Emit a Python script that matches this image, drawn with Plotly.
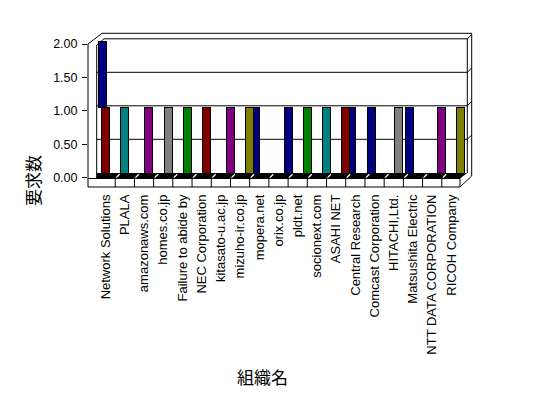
import plotly.graph_objects as go

# ---------------- data ----------------
categories = ["Network Solutions", "PLALA", "amazonaws.com", "homes.co.jp",
              "Failure to abide by", "NEC Corporation", "kitasato-u.ac.jp",
              "mizuho-ir.co.jp", "mopera.net", "orix.co.jp", "pldt.net",
              "socionext.com", "ASAHI NET", "Central Research",
              "Comcast Corporation", "HITACHI,Ltd.", "Matsushita Electric",
              "NTT DATA CORPORATION", "RICOH Company"]
N = None
# requests, split by the slot in which each bar is drawn
slot_front = [1, N, N, N, N, N, N, N, 1, N, N, N, N, 1, 1, N, 1, N, N]
slot_second = [1, 1, N, N, N, N, N, N, N, N, N, N, N, N, N, N, N, N, N]
slot_third = [N, N, 1, 1, 1, 1, N, N, N, N, N, N, N, N, N, 1, N, N, N]
slot_fourth = [N, N, N, N, N, N, 1, 1, N, 1, 1, 1, 1, N, N, N, N, 1, 1]
y_ticks = [0, 0.5, 1.0, 1.5, 2.0]
y_tick_text = ["0.00", "0.50", "1.00", "1.50", "2.00"]

# ---------------- style ----------------
NAVY, MAROON, TEAL, PURPLE = "#000080", "#800000", "#008080", "#800080"
GRAY, GREEN, OLIVE = "#808080", "#008000", "#808000"
bar_colors = [MAROON, TEAL, PURPLE, GRAY, GREEN, MAROON, PURPLE, OLIVE, NAVY,
              NAVY, GREEN, TEAL, MAROON, NAVY, NAVY, GRAY, NAVY, PURPLE, OLIVE]

PAGE_OFF = 8            # default body margin of the page
W, H = 548 - PAGE_OFF, 398 - PAGE_OFF
L, R = 88, 472          # plot area, window px
T, B = 41, 178
CELL0, CELL1 = 96, 461  # first / last category edge on the floor front
cellw = (CELL1 - CELL0) / len(categories)
unit = 67.0             # px per request
label_shift = 3 / unit  # front labels sit a little lower than the bars

def px(x):
    return (x - L) / (R - L)

def py(y):
    return (B - y) / (B - T)

bw = 8 / cellw
def off(left_px):
    return left_px / cellw - 0.5

fig = go.Figure()
for vals, cols, left in [(slot_second, bar_colors, 5.3),
                         (slot_front, NAVY, 2.2),
                         (slot_third, bar_colors, 10.5),
                         (slot_fourth, bar_colors, 15.2)]:
    fig.add_trace(go.Bar(x=categories, y=vals,
                         marker=dict(color=cols, line=dict(color="black", width=1)),
                         width=bw, offset=off(left), showlegend=False,
                         hoverinfo="x+y"))

shapes = []
def line(x0, y0, x1, y1, color="black", width=1, layer="above"):
    shapes.append(dict(type="line", xref="paper", yref="paper",
                       x0=px(x0), y0=py(y0), x1=px(x1), y1=py(y1),
                       line=dict(color=color, width=width), layer=layer))

# back-wall gridlines (slightly above the front scale)
for v in y_ticks[1:]:
    yy = 175 - v * unit - 2.2
    xs = 104 if v == 2.0 else 96.7
    line(xs, yy, 467.3, yy, layer="below")
    line(467.3, yy, 471.7, yy - 4.3, layer="below")
line(96.7, 45, 104, 38.8, layer="below")

# floor (black) and front face of floor
shapes.append(dict(type="path", xref="paper", yref="paper",
                   path=f"M {px(96.7)} {py(178.5)} L {px(460)} {py(178.5)} "
                        f"L {px(467.3)} {py(173)} L {px(96.7)} {py(173)} Z",
                   fillcolor="black", line=dict(width=0), layer="above"))
for k in range(1, len(categories)):
    xk = CELL0 + k * cellw
    line(xk, 178.5, xk, 187)
    line(xk + 1.0, 177.6, xk + 4.4, 174.2, color="white", width=1.3)

# frame
line(88, 44, 88, 187)
line(88, 187, 460, 187)
line(88, 178.5, 460, 178.5)
line(460, 178.5, 460, 187)
line(88, 44, 102, 33.3)
line(102, 33.3, 471.7, 33.3)
line(471.7, 33.3, 471.7, 176)
line(471.7, 176, 460, 187)
line(96.7, 45, 96.7, 178)
line(467.3, 38.8, 467.3, 173)

tick_font = dict(family="Liberation Sans", size=13, color="black")
fig.update_layout(
    width=W, height=H,
    margin=dict(l=L - PAGE_OFF, r=W - (R - PAGE_OFF), t=T - PAGE_OFF,
                b=H - (B - PAGE_OFF), pad=0),
    paper_bgcolor="white", plot_bgcolor="white",
    barmode="stack",
    xaxis=dict(type="category",
               range=[-0.5 - (CELL0 - L) / cellw,
                      len(categories) - 0.5 + (R - CELL1) / cellw],
               tickangle=-90, ticks="", showline=False, showgrid=False,
               zeroline=False, tickfont=tick_font, ticklabelstandoff=13,
               fixedrange=True),
    yaxis=dict(range=[-label_shift - 0.001, 2.0],
               tickvals=[v - label_shift for v in y_ticks], ticktext=y_tick_text,
               ticks="outside", ticklen=5, tickcolor="black", tickwidth=1,
               showline=False, showgrid=False, zeroline=False,
               tickfont=dict(family="Liberation Sans", size=12.5, color="black"),
               ticklabelstandoff=2, fixedrange=True),
    shapes=shapes,
    annotations=[
        dict(text="組織名", xref="paper", yref="paper", x=px(262), y=py(376),
             xanchor="center", yanchor="middle", showarrow=False,
             font=dict(family="Noto Sans CJK JP", size=17, color="black")),
        dict(text="要求数", xref="paper", yref="paper", x=px(32), y=py(181),
             xanchor="center", yanchor="middle", showarrow=False, textangle=-90,
             font=dict(family="Noto Sans CJK JP", size=17, color="black")),
    ],
)

fig.write_html("out.html")
